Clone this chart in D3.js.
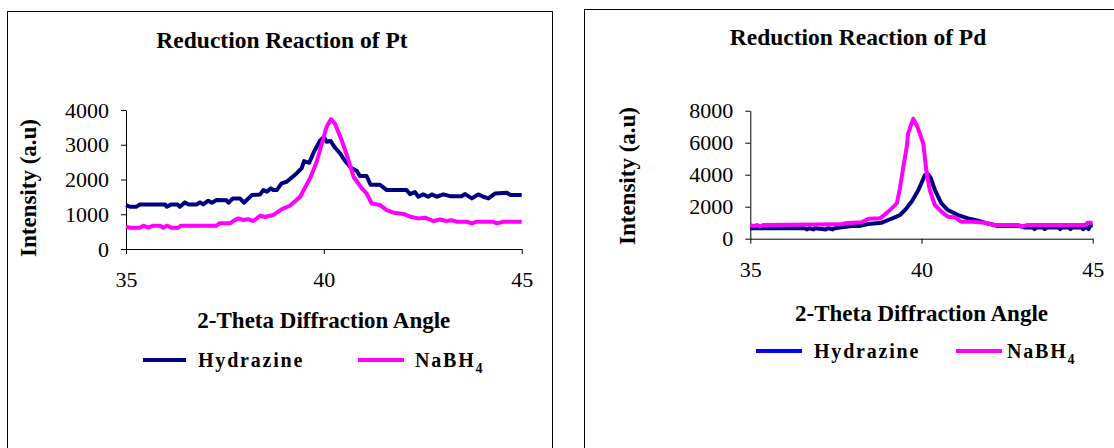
<!DOCTYPE html>
<html>
<head>
<meta charset="utf-8">
<script src="https://cdn.jsdelivr.net/npm/d3@7"></script>
<style>
  html, body { margin: 0; padding: 0; background: #fff; }
  svg { display: block; }
  text { font-family: "Liberation Serif", "Times New Roman", serif; fill: #000; }
</style>
</head>
<body>
<svg id="chart" width="1114" height="448"></svg>
<script>
// XRD scans, 2-theta (degrees) vs intensity (a.u.)
const ptHydrazine = [[35.00,1260],[35.10,1216],[35.27,1216],[35.35,1284],[35.99,1284],[36.03,1216],[36.15,1284],[36.30,1284],[36.36,1216],[36.49,1341],[36.58,1284],[36.79,1284],[36.87,1341],[36.95,1284],[37.08,1390],[37.17,1332],[37.29,1410],[37.54,1400],[37.59,1332],[37.70,1456],[37.88,1456],[37.98,1332],[38.18,1552],[38.39,1571],[38.47,1696],[38.56,1650],[38.66,1745],[38.72,1696],[38.81,1696],[38.93,1887],[39.06,1935],[39.31,2175],[39.44,2330],[39.50,2530],[39.63,2480],[39.75,2800],[39.90,3110],[40.00,3230],[40.07,3085],[40.17,3110],[40.28,2920],[40.41,2750],[40.53,2540],[40.70,2320],[40.83,2250],[40.91,2100],[41.08,2100],[41.18,1850],[41.42,1850],[41.59,1696],[42.09,1696],[42.18,1580],[42.30,1640],[42.39,1504],[42.51,1571],[42.64,1504],[42.73,1571],[42.85,1504],[43.02,1571],[43.19,1520],[43.48,1520],[43.57,1580],[43.74,1456],[43.90,1571],[44.03,1504],[44.16,1456],[44.33,1600],[44.62,1620],[44.72,1552],[45.00,1552]];
const ptNaBH4 = [[35.00,640],[35.10,613],[35.35,613],[35.44,670],[35.56,613],[35.69,670],[35.86,670],[35.94,613],[36.03,670],[36.15,613],[36.32,613],[36.38,670],[37.29,670],[37.36,738],[37.63,738],[37.71,805],[37.84,881],[37.97,833],[38.09,860],[38.22,805],[38.39,958],[38.51,920],[38.72,977],[38.93,1140],[39.14,1245],[39.40,1504],[39.65,2031],[39.82,2510],[39.95,3037],[40.07,3516],[40.18,3736],[40.28,3610],[40.45,3130],[40.58,2700],[40.75,2080],[40.96,1745],[41.08,1600],[41.21,1310],[41.42,1265],[41.59,1120],[41.76,1045],[42.01,1010],[42.18,929],[42.39,881],[42.56,900],[42.77,805],[42.94,850],[43.10,805],[43.23,830],[43.36,785],[43.61,785],[43.74,738],[43.86,785],[44.28,785],[44.37,738],[44.54,785],[45.00,785]];
const pdHydrazine = [[35.00,650],[36.60,650],[36.65,580],[36.72,650],[36.84,580],[36.90,650],[37.20,580],[37.27,650],[37.40,580],[37.47,650],[37.67,710],[37.96,794],[38.20,800],[38.45,919],[38.84,1000],[39.03,1170],[39.22,1335],[39.37,1480],[39.52,1790],[39.71,2310],[39.91,3044],[40.10,3980],[40.19,4040],[40.27,3800],[40.39,3044],[40.58,2210],[40.77,1790],[41.07,1480],[41.36,1270],[41.65,1125],[41.85,1000],[42.23,790],[42.90,790],[43.00,700],[43.25,700],[43.30,600],[43.36,700],[43.55,700],[43.60,600],[43.66,700],[44.00,700],[44.05,600],[44.10,700],[44.30,700],[44.35,600],[44.40,700],[44.68,700],[44.72,600],[44.78,700],[44.85,700],[44.88,600],[44.93,830],[45.00,830]];
const pdNaBH4 = [[35.00,856],[35.10,790],[35.20,856],[35.28,760],[35.38,856],[37.67,900],[37.75,960],[38.25,1023],[38.45,1250],[38.79,1273],[39.03,1690],[39.28,2210],[39.37,3150],[39.47,4500],[39.57,5750],[39.61,6585],[39.76,7500],[39.89,6950],[40.05,5960],[40.14,4290],[40.24,3044],[40.39,2106],[40.58,1690],[40.77,1375],[40.97,1335],[41.16,1063],[41.50,1063],[41.85,1000],[42.14,856],[42.85,856],[42.91,750],[43.10,856],[44.77,856],[44.86,1000],[45.00,1000]];

const angleTicks = [35, 40, 45];
const ptIntensityTicks = [0, 1000, 2000, 3000, 4000];
const pdIntensityTicks = [0, 2000, 4000, 6000, 8000];
const seriesNames = ["Hydrazine", "NaBH"];
const seriesColors = ["#000080", "#FF00FF"];

const serif = '"Liberation Serif", "Times New Roman", serif';
const svg = d3.select("#chart");
svg.append("rect").attr("width", 1114).attr("height", 448).attr("fill", "#fff");

function drawPanel(cfg) {
  const g = svg.append("g");

  // panel frame
  g.append("rect")
    .attr("x", cfg.frame[0]).attr("y", cfg.frame[1])
    .attr("width", cfg.frame[2]).attr("height", cfg.frame[3])
    .attr("fill", "none").attr("stroke", "#000").attr("stroke-width", 1);

  const x = d3.scaleLinear().domain([35, 45]).range(cfg.xRange);
  const y = d3.scaleLinear().domain(cfg.yDomain).range(cfg.yRange);

  // title
  g.append("text")
    .attr("x", cfg.titlePos[0]).attr("y", cfg.titlePos[1])
    .attr("text-anchor", "middle")
    .style("font-size", "23.5px").style("font-weight", "bold")
    .text(cfg.title);

  // axes
  const yAxis = d3.axisLeft(y).tickValues(cfg.yTicks).tickFormat(d3.format("d"))
    .tickSize(5).tickSizeOuter(0).tickPadding(12);
  const xAxis = d3.axisBottom(x).tickValues(angleTicks).tickFormat(d3.format("d"))
    .tickSize(5).tickSizeOuter(0).tickPadding(cfg.xTickPad);

  const ya = g.append("g").attr("transform", `translate(${cfg.xRange[0]},0)`).call(yAxis);
  const xa = g.append("g").attr("transform", `translate(0,${cfg.yRange[0]})`).call(xAxis);
  [ya, xa].forEach(a => {
    a.attr("font-family", serif).attr("font-size", 22);
    a.selectAll("path, line").attr("stroke", "#000").attr("stroke-width", 1);
    a.selectAll("text")
      .style("font-family", serif)
      .style("font-size", "22px").attr("fill", "#000");
  });

  // axis titles
  g.append("text")
    .attr("transform", `translate(${cfg.yTitlePos[0]},${cfg.yTitlePos[1]}) rotate(-90)`)
    .attr("text-anchor", "middle")
    .style("font-size", "23px").style("font-weight", "bold")
    .text("Intensity (a.u)");
  g.append("text")
    .attr("x", (cfg.xRange[0] + cfg.xRange[1]) / 2).attr("y", cfg.xTitleY)
    .attr("text-anchor", "middle")
    .style("font-size", "23px").style("font-weight", "bold")
    .text("2-Theta Diffraction Angle");

  // curves
  const line = d3.line().x(d => x(d[0])).y(d => y(d[1])).curve(d3.curveLinear);
  cfg.series.forEach((s, i) => {
    g.append("path")
      .datum(s)
      .attr("d", line)
      .attr("fill", "none")
      .attr("stroke", seriesColors[i])
      .attr("stroke-width", 4)
      .attr("stroke-linejoin", "round")
      .attr("stroke-linecap", "butt");
  });

  // legend
  cfg.legend.forEach((L, i) => {
    g.append("line")
      .attr("x1", L.line[0]).attr("x2", L.line[1])
      .attr("y1", cfg.legendY).attr("y2", cfg.legendY)
      .attr("stroke", cfg.legendColors[i]).attr("stroke-width", 4);
    const t = g.append("text")
      .attr("x", L.text).attr("y", cfg.legendY + 7)
      .style("font-size", "20px").style("font-weight", "bold")
      .style("letter-spacing", "1.8px")
      .text(seriesNames[i]);
    if (i === 1) {
      t.append("tspan").attr("dy", 6).style("font-size", "14px").text("4");
    }
  });
}

drawPanel({
  frame: [7.5, 11.5, 545, 460],
  title: "Reduction Reaction of Pt",
  titlePos: [282, 48],
  xRange: [126, 521.7],
  yDomain: [0, 4000],
  yRange: [249, 110],
  yTicks: ptIntensityTicks,
  xTickPad: 17,
  yTitlePos: [36, 188],
  xTitleY: 328,
  series: [ptHydrazine, ptNaBH4],
  legendY: 360,
  legendColors: ["#000080", "#FF00FF"],
  legend: [{ line: [143, 186], text: 198 }, { line: [358, 404], text: 415 }]
});

drawPanel({
  frame: [584.5, 9.5, 560, 460],
  title: "Reduction Reaction of Pd",
  titlePos: [858, 45],
  xRange: [750.3, 1092.7],
  yDomain: [0, 8000],
  yRange: [238.7, 110.7],
  yTicks: pdIntensityTicks,
  xTickPad: 18,
  yTitlePos: [635, 176],
  xTitleY: 321,
  series: [pdHydrazine, pdNaBH4],
  legendY: 351,
  legendColors: ["#0000FF", "#FF00FF"],
  legend: [{ line: [756, 802], text: 814 }, { line: [956, 1002], text: 1007 }]
});
</script>
</body>
</html>
